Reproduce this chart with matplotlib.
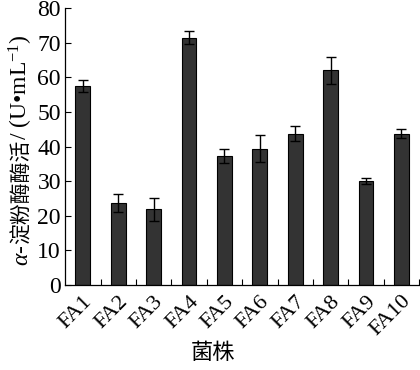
import matplotlib
matplotlib.use("Agg")
import matplotlib.pyplot as plt
import numpy as np

# strain activity data
strains = ["FA1", "FA2", "FA3", "FA4", "FA5", "FA6", "FA7", "FA8", "FA9", "FA10"]
activity = [57.5, 23.6, 21.9, 71.5, 37.3, 39.4, 43.7, 62.0, 30.1, 43.7]
errors = [1.7, 2.6, 3.3, 2.0, 2.1, 3.9, 2.1, 3.8, 0.9, 1.3]
yticks = [0, 10, 20, 30, 40, 50, 60, 70, 80]

plt.rcParams["font.family"] = ["Liberation Serif", "Noto Sans CJK SC"]
plt.rcParams["mathtext.fontset"] = "custom"
plt.rcParams["mathtext.rm"] = "Liberation Serif"
plt.rcParams["mathtext.it"] = "Liberation Serif:italic"

fig = plt.figure(figsize=(4.2, 3.7), dpi=100)
ax = fig.add_axes([0.155, 0.23, 0.843, 0.748])

x = np.arange(len(strains))
ax.bar(x, activity, width=0.42, color="#333333", edgecolor="black", lw=0.8,
       yerr=errors, capsize=3.5, error_kw=dict(elinewidth=1.0, capthick=1.0, ecolor="black"))

ax.set_xlim(-0.5, len(strains) - 0.5)
ax.set_ylim(0, 80)
ax.set_yticks(yticks)
ax.tick_params(axis="y", direction="in", length=4, width=0.8, labelsize=17, pad=3)

# category labels centred, tick marks at the boundaries
ax.set_xticks(x)
ax.set_xticklabels(strains, rotation=45, ha="right", rotation_mode="anchor", fontsize=16)
ax.tick_params(axis="x", which="major", length=0, pad=5)
ax.set_xticks(np.arange(0.5, len(strains)), minor=True)
ax.tick_params(axis="x", which="minor", direction="in", length=4, width=0.8)

for s in ("top", "right"):
    ax.spines[s].set_visible(False)
for s in ("left", "bottom"):
    ax.spines[s].set_linewidth(0.9)

# y label in pieces so the CJK part gets its own font
pieces = [(r"$\alpha$-", 17), ("淀粉酶酶活", 15), (r"/ (U•mL$^{-1}$)", 17)]
fig.canvas.draw()
renderer = fig.canvas.get_renderer()
texts = []
for s, fs in pieces:
    t = fig.text(0, 0, s, rotation=90, rotation_mode="anchor", ha="left",
                 va="baseline", fontsize=fs)
    texts.append(t)
heights = [t.get_window_extent(renderer).height / fig.bbox.height for t in texts]
y0 = (1 - 150 / 370) - sum(heights) / 2
for t, h in zip(texts, heights):
    t.set_position((28 / 420, y0))
    y0 += h

fig.text(0.507, 0.045, "菌株", ha="center", va="center", fontsize=16)

fig.savefig("out.png", dpi=100)
